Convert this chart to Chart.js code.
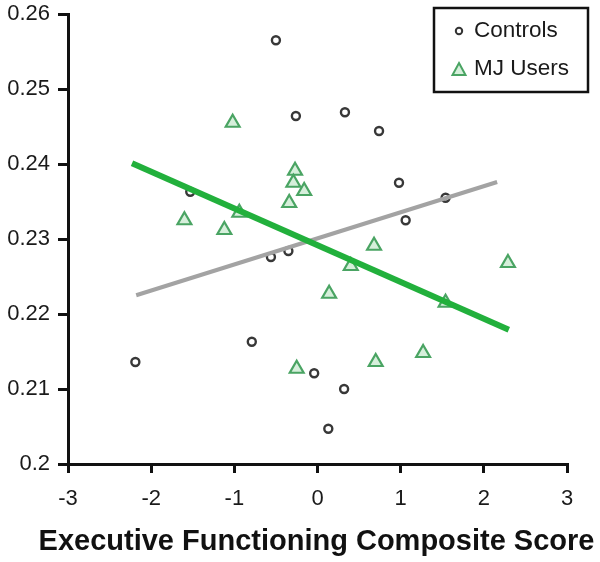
<!DOCTYPE html>
<html>
<head>
<meta charset="utf-8">
<script src="https://cdn.jsdelivr.net/npm/chart.js@4.4.1/dist/chart.umd.min.js"></script>
<style>
  html, body { margin: 0; padding: 0; background: #fff; }
  #wrap { width: 600px; height: 562px; position: relative; }
</style>
</head>
<body>
<div id="wrap"><canvas id="myChart"></canvas></div>
<script>
// Controls (circles)
var controlsX = [-2.19, -0.50, -0.26, 0.33, 0.74, 0.98, 1.06, 1.54, -1.53, -0.56, -0.35, -0.79, -0.04, 0.32, 0.13];
var controlsY = [0.2136, 0.2565, 0.2464, 0.2469, 0.2444, 0.2375, 0.2325, 0.2355, 0.2363, 0.2276, 0.2284, 0.2163, 0.2121, 0.2100, 0.2047];
// MJ users (triangles)
var mjX = [-1.02, -0.27, -0.29, -0.16, -0.34, -1.60, -0.94, -1.12, 0.14, -0.25, 0.68, 0.40, 2.29, 1.54, 1.27, 0.70];
var mjY = [0.2455, 0.2391, 0.2375, 0.2364, 0.2348, 0.2325, 0.2335, 0.2312, 0.2227, 0.2127, 0.2291, 0.2264, 0.2268, 0.2215, 0.2148, 0.2136];
// fit lines (end points)
var controlsFitX = [-2.18, 2.16];
var controlsFitY = [0.2225, 0.2376];
var mjFitX = [-2.23, 2.30];
var mjFitY = [0.2401, 0.2179];

var xTickLabels = ['-3', '-2', '-1', '0', '1', '2', '3'];
var yTickLabels = ['0.2', '0.21', '0.22', '0.23', '0.24', '0.25', '0.26'];
var xAxisTitle = 'Executive Functioning Composite Score';

function pts(xs, ys) {
  return xs.map(function(x, i) { return { x: x, y: ys[i] }; });
}

// legend box inside the plot (top right) + axis title wider than the axis
var extras = {
  id: 'extras',
  afterDraw: function(chart) {
    var ctx = chart.ctx;
    var area = chart.chartArea;
    ctx.save();
    // x axis title, may run past the axis ends like the original
    ctx.font = "bold 29px 'Liberation Sans', Arial, sans-serif";
    ctx.fillStyle = '#111';
    ctx.textAlign = 'center';
    ctx.textBaseline = 'alphabetic';
    ctx.fillText(xAxisTitle, (area.left + area.right) / 2 - 1, 550);

    ctx.textAlign = 'left';
    ctx.strokeStyle = '#111';
    ctx.lineWidth = 2.5;
    ctx.strokeRect(434, 8, 154, 84);
    ctx.font = "22.5px 'Liberation Sans', Arial, sans-serif";
    ctx.fillStyle = '#1a1a1a';
    ctx.textBaseline = 'middle';
    ctx.fillText(chart.data.datasets[0].label, 474, 31);
    ctx.fillText(chart.data.datasets[1].label, 474, 69);
    // circle marker
    ctx.beginPath();
    ctx.arc(459, 31, 3.2, 0, Math.PI * 2);
    ctx.strokeStyle = '#333';
    ctx.lineWidth = 2;
    ctx.stroke();
    // triangle marker
    ctx.beginPath();
    ctx.moveTo(459, 63);
    ctx.lineTo(465.5, 75);
    ctx.lineTo(452.5, 75);
    ctx.closePath();
    ctx.fillStyle = '#d6efdb';
    ctx.fill();
    ctx.strokeStyle = '#4aa463';
    ctx.lineWidth = 2;
    ctx.stroke();
    ctx.restore();
  }
};

Chart.defaults.font.family = "'Liberation Sans', Arial, sans-serif";
Chart.defaults.color = '#222';

var ctx = document.getElementById('myChart');
var myChart = new Chart(ctx, {
  type: 'scatter',
  data: {
    datasets: [
      {
        label: 'Controls',
        data: pts(controlsX, controlsY),
        pointStyle: 'circle',
        pointRadius: 4,
        borderWidth: 2.4,
        borderColor: '#383838',
        backgroundColor: '#fff',
        order: 3
      },
      {
        label: 'MJ Users',
        data: pts(mjX, mjY),
        pointStyle: 'triangle',
        pointRadius: 8,
        borderWidth: 2.2,
        borderColor: '#4aa463',
        backgroundColor: '#d6efdb',
        order: 2
      },
      {
        type: 'line',
        label: 'Controls fit',
        data: pts(controlsFitX, controlsFitY),
        borderColor: '#a3a3a3',
        borderWidth: 4,
        pointRadius: 0,
        fill: false,
        order: 1
      },
      {
        type: 'line',
        label: 'MJ fit',
        data: pts(mjFitX, mjFitY),
        borderColor: '#22b03c',
        borderWidth: 6,
        pointRadius: 0,
        fill: false,
        order: 0
      }
    ]
  },
  options: {
    responsive: true,
    maintainAspectRatio: false,
    animation: false,
    layout: { padding: { top: 14, right: 33, bottom: 0, left: 0 } },
    plugins: {
      legend: { display: false },
      tooltip: { enabled: false }
    },
    scales: {
      x: {
        type: 'linear',
        min: -3,
        max: 3,
        afterFit: function(scale) {
          scale.height = 98;
          scale.paddingLeft = 0;
          scale.paddingRight = 0;
        },
        ticks: {
          stepSize: 1,
          padding: 13,
          color: '#1a1a1a',
          font: { size: 22 },
          callback: function(value) {
            return xTickLabels[Math.round(value) + 3];
          }
        },
        grid: { drawOnChartArea: false, drawTicks: true, tickLength: 9, color: '#111', lineWidth: 3 },
        border: { display: true, color: '#111', width: 3 },
        title: { display: false, text: xAxisTitle }
      },
      y: {
        min: 0.2,
        max: 0.26,
        afterFit: function(scale) {
          scale.width = 68;
          scale.paddingTop = 0;
          scale.paddingBottom = 0;
        },
        ticks: {
          stepSize: 0.01,
          padding: 8,
          color: '#1a1a1a',
          font: { size: 22 },
          callback: function(value) {
            return yTickLabels[Math.round((value - 0.2) * 100)];
          }
        },
        grid: { drawOnChartArea: false, drawTicks: true, tickLength: 10, color: '#111', lineWidth: 3 },
        border: { display: true, color: '#111', width: 3 }
      }
    }
  },
  plugins: [extras]
});
</script>
</body>
</html>
